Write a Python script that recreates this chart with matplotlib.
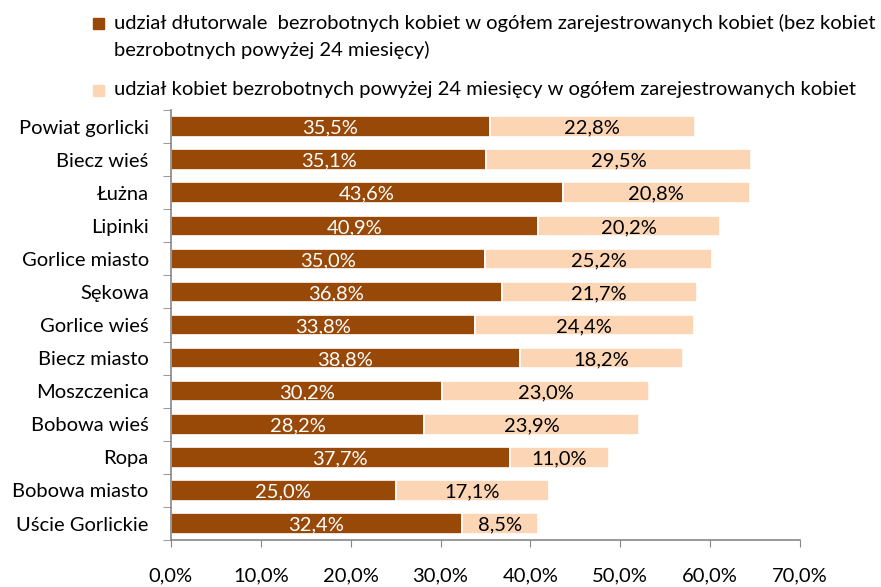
import numpy as np
import matplotlib.pyplot as plt
from matplotlib.patches import Rectangle
from matplotlib.ticker import FixedLocator

plt.rcParams["font.family"] = ["Lato", "DejaVu Sans"]

categories = [
    "Powiat gorlicki", "Biecz wieś", "Łużna", "Lipinki", "Gorlice miasto",
    "Sękowa", "Gorlice wieś", "Biecz miasto", "Moszczenica", "Bobowa wieś",
    "Ropa", "Bobowa miasto", "Uście Gorlickie",
]
long_term_excl = [35.5, 35.1, 43.6, 40.9, 35.0, 36.8, 33.8, 38.8, 30.2, 28.2, 37.7, 25.0, 32.4]
over_24m = [22.8, 29.5, 20.8, 20.2, 25.2, 21.7, 24.4, 18.2, 23.0, 23.9, 11.0, 17.1, 8.5]

series_labels = [
    "udział dłutorwale  bezrobotnych kobiet w ogółem zarejestrowanych kobiet (bez kobiet\nbezrobotnych powyżej 24 miesięcy)",
    "udział kobiet bezrobotnych powyżej 24 miesięcy w ogółem zarejestrowanych kobiet",
]

dark = "#984807"
light = "#FCD5B5"
axis_gray = "#868686"
fs = 14.5

fig = plt.figure(figsize=(8.81, 5.87), dpi=100)
ax = fig.add_axes([0.194, 0.080, 0.714, 0.7326])

y = np.arange(len(categories))
bars1 = ax.barh(y, long_term_excl, height=0.62, color=dark,
                edgecolor="white", linewidth=1.2)
bars2 = ax.barh(y, over_24m, left=long_term_excl, height=0.62, color=light,
                edgecolor="white", linewidth=1.2)

for bars, vals, col in [(bars1, long_term_excl, "white"), (bars2, over_24m, "black")]:
    for b, v in zip(bars, vals):
        t = ax.text(b.get_x() + b.get_width() / 2, b.get_y() + b.get_height() / 2 + 0.05,
                    f"{v:.1f}%".replace(".", ","), ha="center", va="center",
                    color=col, fontsize=fs)
        t.set_clip_path(b)

ax.set_xlim(0, 70)
ax.set_ylim(len(categories) - 0.5, -0.5)

ax.set_xticks(np.arange(0, 71, 10))
ax.set_xticklabels([f"{v:.1f}%".replace(".", ",") for v in np.arange(0, 71, 10)],
                   fontsize=fs)
ax.tick_params(axis="x", length=5, color=axis_gray, pad=15)

ax.set_yticks(y)
ax.set_yticklabels(categories, fontsize=fs)
ax.tick_params(axis="y", which="major", length=0, pad=16)
ax.yaxis.set_minor_locator(FixedLocator(np.arange(-0.5, len(categories), 1)))
ax.tick_params(axis="y", which="minor", length=6, color=axis_gray)

for s in ["top", "right"]:
    ax.spines[s].set_visible(False)
for s in ["left", "bottom"]:
    ax.spines[s].set_color(axis_gray)
    ax.spines[s].set_linewidth(1.2)

# legend drawn at the top, left aligned with wrapped first entry
fig.patches.append(Rectangle((93 / 881, 1 - 29 / 587), 11 / 881, 11 / 587,
                             transform=fig.transFigure, color=dark))
fig.text(114 / 881, 1 - 14 / 587, series_labels[0], fontsize=fs,
         va="top", ha="left", linespacing=1.62)
fig.patches.append(Rectangle((93 / 881, 1 - 96 / 587), 11 / 881, 11 / 587,
                             transform=fig.transFigure, color=light))
fig.text(114 / 881, 1 - 90 / 587, series_labels[1], fontsize=fs,
         va="center", ha="left")

fig.savefig("out.png", dpi=100)
